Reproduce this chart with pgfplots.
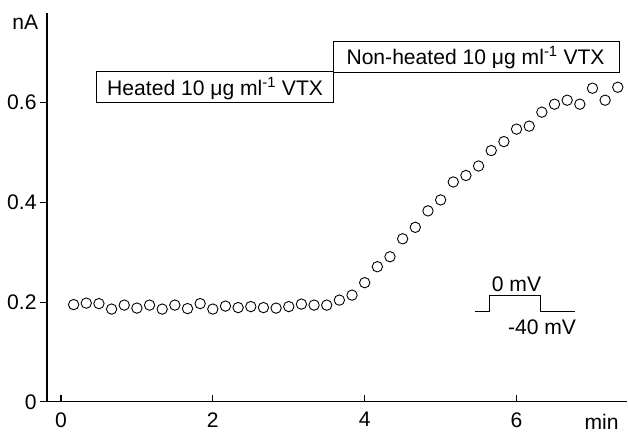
\documentclass[border=0pt]{standalone}
\usepackage{pgfplots}
\pgfplotsset{compat=1.18}
\usepackage{fontspec}
\setmainfont{Liberation Sans}
\newcommand{\fs}{\fontsize{21.2}{25}\selectfont}
\begin{document}
\begin{tikzpicture}
\begin{axis}[
  x=76bp, y=499bp,
  xmin=-0.184, xmax=7.46, ymin=0, ymax=0.78,
  axis lines=left,
  axis line style={-, line width=1.2bp},
  tick align=outside,
  major tick length=7bp,
  every tick/.style={line width=1.2bp, black},
  every x tick/.append style={yshift=7bp},
  xtick={0,2,4,6}, ytick={0,0.2,0.4,0.6},
  yticklabels={0,0.2,0.4,0.6},
  tick label style={font=\fs},
  /pgf/number format/assume math mode=true,
  clip=false,
]
\addplot[only marks, mark=o, mark size=5.2bp, line width=0.9bp, black] table {
x y
0.1667 0.195
0.3333 0.198
0.5000 0.197
0.6667 0.186
0.8333 0.194
1.0000 0.188
1.1667 0.194
1.3333 0.186
1.5000 0.194
1.6667 0.187
1.8333 0.197
2.0000 0.186
2.1667 0.192
2.3333 0.189
2.5000 0.191
2.6667 0.189
2.8333 0.188
3.0000 0.191
3.1667 0.196
3.3333 0.194
3.5000 0.194
3.6667 0.204
3.8333 0.214
4.0000 0.239
4.1667 0.271
4.3333 0.291
4.5000 0.327
4.6667 0.350
4.8333 0.383
5.0000 0.405
5.1667 0.441
5.3333 0.454
5.5000 0.473
5.6667 0.504
5.8333 0.522
6.0000 0.547
6.1667 0.553
6.3333 0.581
6.5000 0.597
6.6667 0.605
6.8333 0.597
7.0000 0.629
7.1667 0.605
7.3333 0.631
};
\draw[line width=1bp] (axis cs:0.47,0.601) rectangle (axis cs:3.59,0.663);
\draw[line width=1bp] (axis cs:3.59,0.661) rectangle (axis cs:7.36,0.723);
\node[anchor=base, inner sep=0pt, font=\fs] at (axis cs:2.03,0.615) {Heated 10 μg ml\textsuperscript{-1} VTX};
\node[anchor=base, inner sep=0pt, font=\fs] at (axis cs:5.46,0.677) {Non-heated 10 μg ml\textsuperscript{-1} VTX};
\draw[line width=1bp] (axis cs:5.456,0.181) -- (axis cs:5.645,0.181) -- (axis cs:5.645,0.214) -- (axis cs:6.312,0.214) -- (axis cs:6.312,0.181) -- (axis cs:6.776,0.181);
\node[font=\fs, inner sep=0pt] at (axis cs:6.0,0.236) {0 mV};
\node[font=\fs, inner sep=0pt] at (axis cs:6.336,0.149) {-40 mV};
\node[font=\fs, inner sep=0pt] at (axis cs:7.12,-0.040) {min};
\node[font=\fs, inner sep=0pt] at (axis cs:-0.47,0.761) {nA};
\path (axis cs:-0.803,-0.066) rectangle (axis cs:7.461,0.806);
\end{axis}
\end{tikzpicture}
\end{document}
